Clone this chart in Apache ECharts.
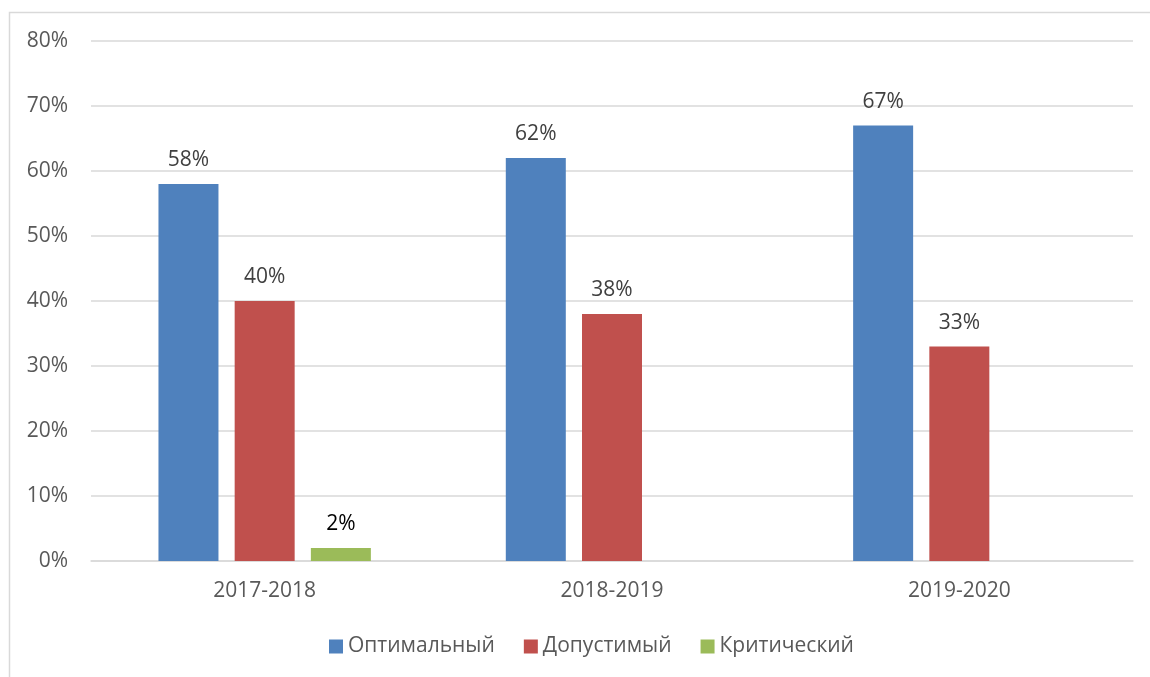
<!DOCTYPE html>
<html><head><meta charset="utf-8">
<script src="https://cdn.jsdelivr.net/npm/echarts@6/dist/echarts.min.js"></script>
<style>html,body{margin:0;padding:0;background:#fff}#c{width:1150px;height:677px}</style>
</head><body><div id="c"></div>
<script>
const categories = ['2017-2018', '2018-2019', '2019-2020'];
const seriesNames = ['Оптимальный', 'Допустимый', 'Критический'];
const optimal = [58, 62, 67];
const acceptable = [40, 38, 33];
const critical = [2, null, null];
const yTicks = [0, 10, 20, 30, 40, 50, 60, 70, 80];

const colors = ['#4f81bd', '#c0504d', '#9bbb59'];
const font = '"Open Sans", "Noto Sans", sans-serif';
const FS = 21;
const chart = echarts.init(document.getElementById('c'), null, {renderer: 'canvas'});
function mk(name, data, color, labelColor) {
  return {
    name, type: 'bar', data, barWidth: 60, barGap: '27%',
    itemStyle: {color},
    label: {show: true, position: 'top', distance: 13, formatter: p => p.value == null ? '' : p.value + '%',
      color: labelColor, fontSize: FS, fontFamily: font}
  };
}
chart.setOption({
  animation: false,
  graphic: [{type: 'rect', shape: {x: 9.5, y: 12.5, width: 1200, height: 700}, style: {fill: 'none', stroke: '#d9d9d9', lineWidth: 1.5}}],
  grid: {left: 91, right: 17, top: 41, bottom: 116},
  legend: {bottom: 15, left: 324, itemWidth: 14, itemHeight: 14, itemGap: 29,
    icon: 'rect', textStyle: {color: '#595959', fontSize: FS, fontFamily: font}, data: seriesNames},
  xAxis: {type: 'category', data: categories,
    axisLine: {lineStyle: {color: '#d9d9d9', width: 1.5}}, axisTick: {show: false},
    axisLabel: {color: '#595959', fontSize: FS, fontFamily: font, margin: 20}},
  yAxis: {type: 'value', min: yTicks[0], max: yTicks[yTicks.length - 1], interval: 10,
    axisLine: {show: false}, axisTick: {show: false},
    splitLine: {lineStyle: {color: '#d9d9d9', width: 1.5}},
    axisLabel: {color: '#595959', fontSize: FS, fontFamily: font, margin: 23, formatter: v => v + '%'}},
  series: [
    mk(seriesNames[0], optimal, colors[0], '#404040'),
    mk(seriesNames[1], acceptable, colors[1], '#404040'),
    mk(seriesNames[2], critical, colors[2], '#000000')
  ]
});
</script></body></html>
